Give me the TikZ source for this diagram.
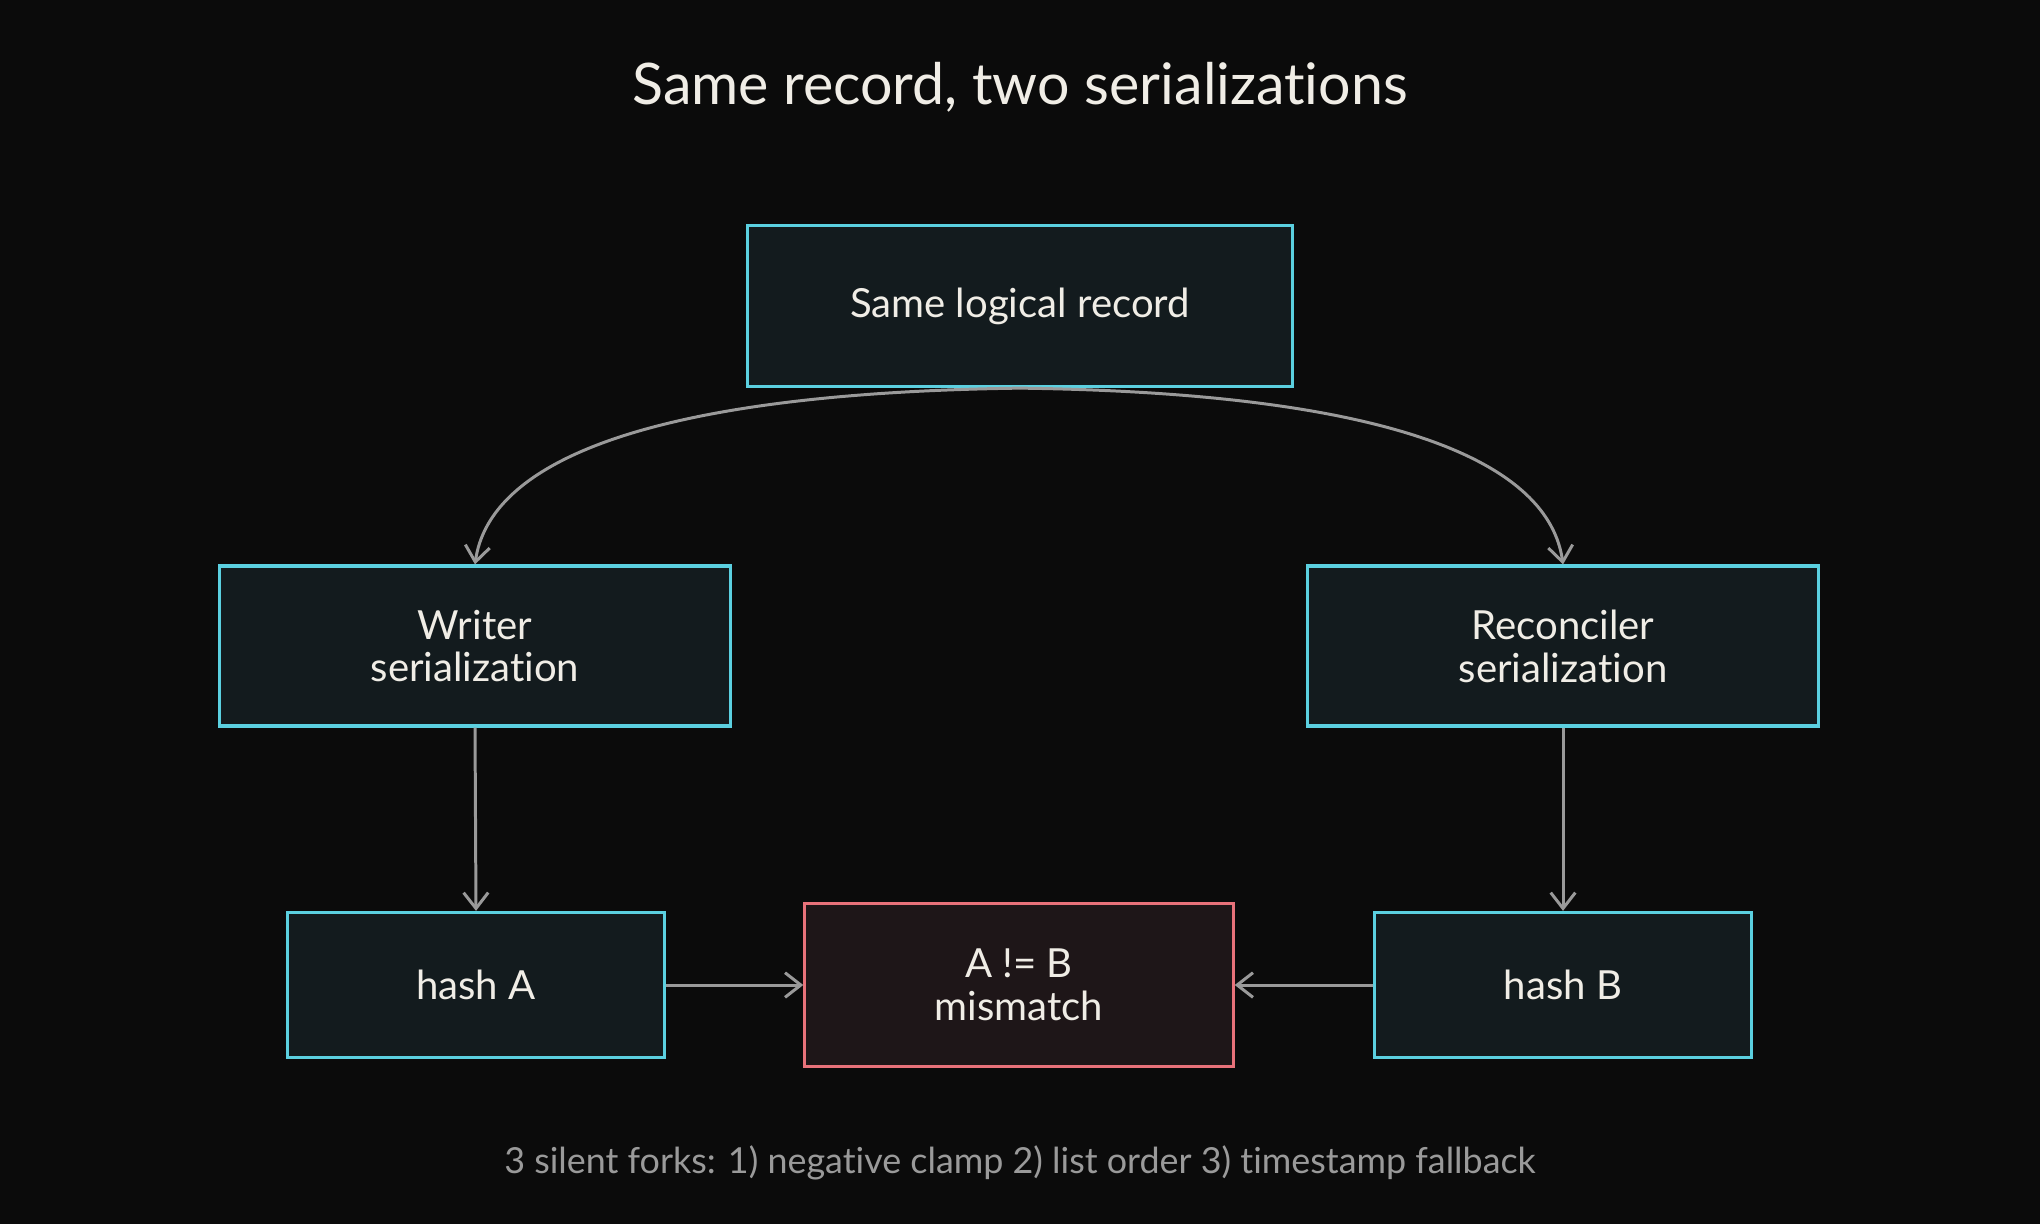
\documentclass[tikz,border=0pt]{standalone}
\usepackage{fontspec}
\setmainfont{Lato}[Ligatures={NoCommon}]
\usepackage{xcolor}
\usepackage{tikz}
\usetikzlibrary{arrows.meta, positioning}
\definecolor{fondo}{HTML}{0B0B0B}
\definecolor{cajafondo}{HTML}{131B1E}
\definecolor{cian}{HTML}{5BD0E0}
\definecolor{errfondo}{HTML}{1E1618}
\definecolor{rojo}{HTML}{E8727A}
\definecolor{gris}{HTML}{9A9A9A}
\definecolor{tinta}{HTML}{F0EDE6}
\tikzset{
  every picture/.style={x=0.01cm, y=-0.01cm},
  caja/.style={draw=cian, text=tinta, fill=cajafondo, line width=0.9pt,
              font=\fontsize{11.4}{12.2}\selectfont, align=center, inner sep=0pt},
  cajaerr/.style={caja, draw=rojo, fill=errfondo},
  titulo/.style={text=tinta, font=\fontsize{16.3}{19}\selectfont},
  nota/.style={text=gris, font=\fontsize{10.2}{12}\selectfont},
  flecha/.style={-{Straight Barb[length=4.5pt, width=7pt]}, line width=0.85pt, gris},
}

\begin{document}
\begin{tikzpicture}
  \fill[fondo] (0,0) rectangle (2040,1224);
  \useasboundingbox (0,0) rectangle (2040,1224);
  \node[titulo] (tit) at (1020,87) {Same record, two serializations};
  \node[caja, minimum width=5.44cm, minimum height=1.61cm] (reg) at (1020,306) {Same logical record};
  \foreach \n/\t/\x in {wri/{Writer\\serialization}/475, rec/{Reconciler\\serialization}/1563} {
    \node[caja, minimum width=5.1cm, minimum height=1.6cm] (\n) at (\x,646) {\t};
  }
  \foreach \n/\t/\x in {ha/hash A/476, hb/hash B/1563} {
    \node[caja, minimum width=3.76cm, minimum height=1.45cm] (\n) at (\x,985) {\t};
  }
  \node[cajaerr, minimum width=4.28cm, minimum height=1.63cm] (mis) at (1019,985) {A != B\\mismatch};
  \draw[flecha] (reg.south) .. controls +(-380,5) and +(14,-100) .. (wri.north);
  \draw[flecha] (reg.south) .. controls +(380,5) and +(-14,-100) .. (rec.north);
  \foreach \a/\b in {wri/ha, rec/hb} \draw[flecha] (\a.south) -- (\b.north);
  \draw[flecha] (ha.east) -- (mis.west);
  \draw[flecha] (hb.west) -- (mis.east);
  \node[nota] (pie) at (1020,1163) {3 silent forks: 1) negative clamp 2) list order 3) timestamp fallback};
\end{tikzpicture}
\end{document}
